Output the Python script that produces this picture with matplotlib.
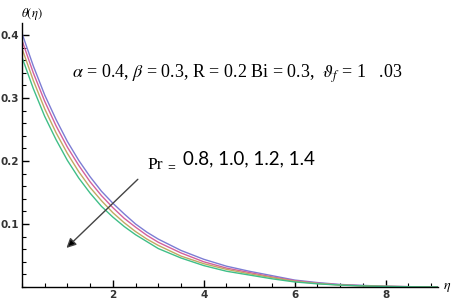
import matplotlib.pyplot as plt
from matplotlib.ticker import MultipleLocator

plt.rcParams["mathtext.fontset"] = "stix"

# eta grid and theta(eta) for Pr = 0.8, 1.0, 1.2, 1.4
eta = [0, 0.25, 0.5, 0.75, 1, 1.25, 1.5, 1.75, 2, 2.25, 2.5, 2.75, 3, 3.5, 4, 4.5,
       5, 5.5, 6, 6.5, 7, 7.5, 8, 8.5, 9, 9.5]
theta_pr08 = [0.403, 0.351, 0.305, 0.266, 0.231, 0.201, 0.175, 0.152, 0.133, 0.116, 0.100,
              0.087, 0.076, 0.058, 0.044, 0.033, 0.025, 0.018, 0.011, 0.007, 0.004,
              0.0025, 0.0012, 0.0005, 0.0, 0.0]
theta_pr10 = [0.392, 0.340, 0.295, 0.256, 0.222, 0.193, 0.167, 0.145, 0.126, 0.109, 0.095,
              0.082, 0.071, 0.054, 0.040, 0.030, 0.023, 0.016, 0.010, 0.006, 0.0035,
              0.002, 0.001, 0.0005, 0.0, 0.0]
theta_pr12 = [0.379, 0.328, 0.283, 0.245, 0.212, 0.183, 0.158, 0.137, 0.118, 0.102, 0.088,
              0.076, 0.066, 0.049, 0.037, 0.028, 0.021, 0.015, 0.009, 0.0055, 0.003,
              0.0018, 0.001, 0.0004, 0.0, 0.0]
theta_pr14 = [0.365, 0.315, 0.271, 0.234, 0.201, 0.173, 0.149, 0.128, 0.111, 0.096, 0.083,
              0.072, 0.061, 0.046, 0.034, 0.025, 0.019, 0.013, 0.008, 0.005, 0.003,
              0.0016, 0.0008, 0.0003, 0.0, 0.0]
colors = ["#7c7cd4", "#d4609c", "#c2a862", "#3fbf88"]

fig = plt.figure(figsize=(4.57, 3.04), dpi=100)
ax = fig.add_axes([0.048, 0.056, 0.910, 0.868])

for th, c in zip([theta_pr08, theta_pr10, theta_pr12, theta_pr14], colors):
    ax.plot(eta, th, color=c, lw=1.0)

ax.set_xlim(0, 9.15)
ax.set_ylim(0, 0.419)
for s in ["top", "right"]:
    ax.spines[s].set_visible(False)
ax.spines["left"].set_linewidth(1.0)
ax.spines["bottom"].set_linewidth(1.0)

ax.xaxis.set_minor_locator(MultipleLocator(0.5))
ax.yaxis.set_minor_locator(MultipleLocator(0.02))
ax.set_xticks([2, 4, 6, 8])
ax.set_yticks([0.1, 0.2, 0.3, 0.4])
ax.set_yticklabels(["0.1", "0.2", "0.3", "0.4"])
ax.tick_params(which="major", direction="in", length=5, width=1, labelsize=7.5, pad=2)
ax.tick_params(which="minor", direction="in", length=3, width=0.8)
for lab in ax.get_xticklabels() + ax.get_yticklabels():
    lab.set_fontweight("bold")
    lab.set_color("#333333")

fig.text(0.045, 0.955, r"$\theta(\eta)$", fontsize=9, ha="left", va="center")
fig.text(0.978, 0.056, r"$\eta$", fontsize=10, ha="center", va="center")

ax.text(1.1, 0.338, r"$\alpha$ = 0.4, $\beta$ = 0.3, R = 0.2 Bi = 0.3,  $\vartheta_f$ = 1   .03",
        fontsize=13, family="Liberation Serif", ha="left", va="center")
ax.text(2.77, 0.194, "Pr", fontsize=12.5, family="Liberation Serif", ha="left", va="center")
ax.text(3.2, 0.189, "=", fontsize=10, family="Liberation Serif", ha="left", va="center")
ax.text(3.54, 0.203, "0.8, 1.0, 1.2, 1.4", fontsize=13.5, family="Lato", ha="left", va="center")

ax.annotate("", xy=(0.98, 0.062), xytext=(2.55, 0.171),
            arrowprops=dict(arrowstyle="-|>", color="#444444", lw=1.0,
                            mutation_scale=14, shrinkA=0, shrinkB=0,
                            fc="black", ec="#444444"))

fig.savefig("out.png", dpi=100)
